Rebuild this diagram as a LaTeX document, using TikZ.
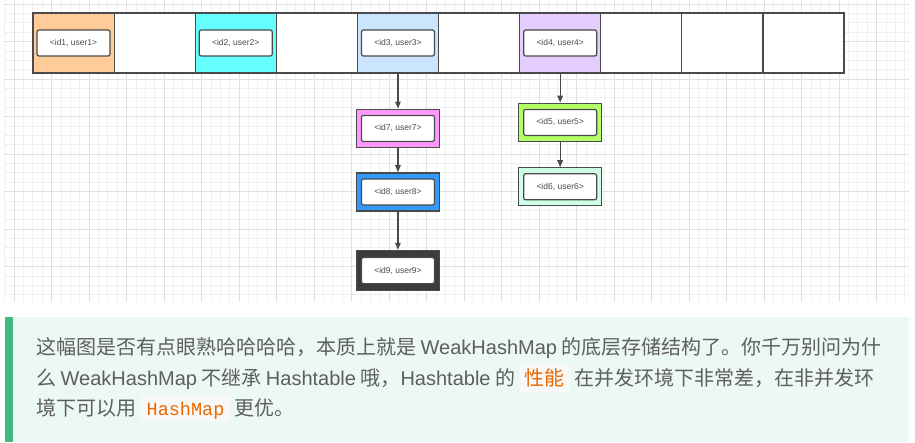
\documentclass[tikz,border=0pt]{standalone}
\usepackage{fontspec}
\setmainfont{Noto Sans CJK SC}
\newfontfamily\lat{Liberation Sans}
\newfontfamily\mono{Liberation Mono}
\usetikzlibrary{arrows.meta,positioning}
\definecolor{LineGrey}{HTML}{4A4A4A}
\definecolor{GridMinor}{HTML}{F0F0F0}
\definecolor{GridMajor}{HTML}{E0E0E0}
\definecolor{CellPeach}{HTML}{FFCC99}
\definecolor{CellCyan}{HTML}{66FFFF}
\definecolor{CellBlue}{HTML}{CCE5FF}
\definecolor{CellLilac}{HTML}{E5CCFF}
\definecolor{NodePink}{HTML}{FF99FF}
\definecolor{NodeBlue}{HTML}{3399FF}
\definecolor{NodeDark}{HTML}{3C3C3C}
\definecolor{NodeLime}{HTML}{B3FF66}
\definecolor{NodeMint}{HTML}{CCFFE6}
\definecolor{NoteBg}{HTML}{ECF8F2}
\definecolor{NoteBar}{HTML}{42B983}
\definecolor{NoteText}{HTML}{5E5E5E}
\definecolor{CodeBg}{HTML}{F8F8F8}
\definecolor{CodeText}{HTML}{E96900}
\newcommand\en[1]{{\lat #1}}
\newcommand\hl[2]{{\fboxsep=0pt\colorbox{CodeBg}{\hspace{#1}\rule[-6.5pt]{0pt}{27.5pt}\textcolor{CodeText}{#2}\hspace{#1}}}}
\begin{document}
\begin{tikzpicture}[x=1pt,y=-1pt,
    slot/.style={draw=LineGrey,line width=1.2pt,minimum width=81.1pt,
                 minimum height=60pt,inner sep=0pt},
    entry/.style={draw=LineGrey,line width=1.6pt,minimum width=83pt,
                  minimum height=38pt,inner sep=0pt},
    pair/.style={draw=LineGrey,fill=white,line width=1.2pt,rounded corners=2pt,
                 minimum width=73pt,minimum height=26pt,inner sep=0pt,
                 font=\lat\fontsize{8.5}{9}\selectfont,text=LineGrey},
    link/.style={-{Triangle[length=7pt,width=5.5pt]},LineGrey,line width=1.3pt},
    note/.style={text=NoteText,font=\fontsize{20}{20}\selectfont,inner sep=0pt}]
  \useasboundingbox (0,0) rectangle (915,442);
  % background grid
  \foreach \i in {0,...,96}
    \draw[GridMinor,line width=0.7pt] ({4.625+9.375*\i},0) -- ({4.625+9.375*\i},302);
  \foreach \i in {0,...,31}
    \draw[GridMinor,line width=0.7pt] (4,{4+9.375*\i}) -- (909,{4+9.375*\i});
  \foreach \i in {0,...,23}
    \draw[GridMajor,line width=0.8pt] ({14+37.5*\i},0) -- ({14+37.5*\i},302);
  \foreach \i in {0,...,7}
    \draw[GridMajor,line width=0.8pt] (4,{4+37.5*\i}) -- (909,{4+37.5*\i});
  % table
  \foreach \i/\col in {1/CellPeach,2/white,3/CellCyan,4/white,5/CellBlue,
                       6/white,7/CellLilac,8/white,9/white,10/white}
    \node[slot,fill=\col] (s\i) at ({33+81.1*(\i-0.5)},43) {};
  \foreach \i/\j in {1/1,3/2,5/3,7/4}
    \node[pair] (k\j) at (s\i) {<id\j, user\j>};
  % chains
  \node[entry,fill=NodePink,below=35pt of s5] (e7) {};
  \node[entry,fill=NodeBlue,below=24pt of e7] (e8) {};
  \node[entry,fill=NodeDark,minimum height=40pt,below=38pt of e8] (e9) {};
  \node[entry,fill=NodeLime,below=29pt of s7] (e5) {};
  \node[entry,fill=NodeMint,line width=1.2pt,below=25pt of e5] (e6) {};
  \foreach \j in {5,...,9}
    \node[pair] (k\j) at (e\j) {<id\j, user\j>};
  \draw[link] (s5) -- (e7);
  \draw[link] (e7) -- (e8);
  \draw[link] (e8) -- (e9);
  \draw[link] (s7) -- (e5);
  \draw[link] (e5) -- (e6);
  % note
  \fill[NoteBg] (5,317) rectangle (909,442);
  \fill[NoteBar] (5,317) rectangle (13,442);
  \node[note,anchor=base west] (l1) at (36,354.5)
    {这幅图是否有点眼熟哈哈哈哈，本质上就是 \en{WeakHashMap} 的底层存储结构了。你千万别问为什};
  \node[note,anchor=base west] (l2) at (36,385.5)
    {么 \en{WeakHashMap} 不继承 \en{Hashtable} 哦，\en{Hashtable} 的 \hl{5pt}{性能} 在并发环境下非常差，在非并发环};
  \node[note,anchor=base west] (l3) at (36,415.5)
    {境下可以用 \hl{6pt}{\mono\fontsize{18.5}{20}\selectfont HashMap} 更优。};
\end{tikzpicture}
\end{document}
